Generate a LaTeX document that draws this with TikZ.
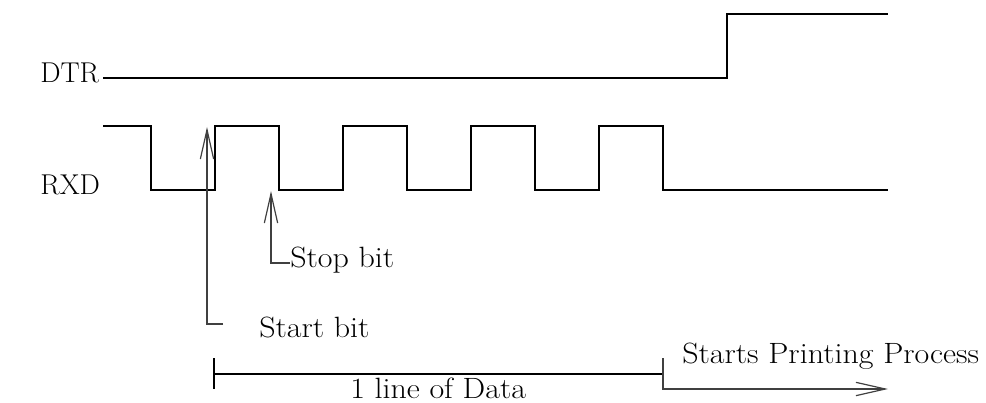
\documentclass[tikz,border=0pt]{standalone}
\usepackage{tikz}
\usetikzlibrary{arrows.meta}

\newcommand{\widetext}[1]{\scalebox{1.09}[1]{#1}}

\begin{document}
\begin{tikzpicture}[x=0.75pt, y=-0.75pt,
      every node/.append style={font=\fontsize{22}{26}\selectfont, inner sep=0pt},
      pointer/.style={line width=0.9pt, draw=black!75, -{Straight Barb[length=22pt,width=10pt,line width=0.9pt]}}]
    \tikzstyle{signal} = [line width=1.7pt, line join=miter]
    \tikzstyle{label} = [anchor=base west]
    \tikzstyle{signame} = [anchor=base west, font=\fontsize{21.5}{26}\selectfont]
    \useasboundingbox (0,0) rectangle (986,403);
    % signal names
    \node [signame] (dtr) at (40,83) {DTR};
    \node [signame] (rxd) at (40,195) {RXD};
    % DTR goes high after the data
    \draw [signal] (103,78) -- (727,78) -- (727,14) -- (888,14);
    % RXD pulses
    \draw [signal] (103,126) -- (151,126) -- (151,190) -- (215,190) -- (215,126)
      -- (279,126) -- (279,190) -- (343,190) -- (343,126) -- (407,126) -- (407,190)
      -- (471,190) -- (471,126) -- (535,126) -- (535,190) -- (599,190) -- (599,126)
      -- (663,126) -- (663,190) -- (888,190);
    % stop bit
    \coordinate (stoptip) at (271,191);
    \coordinate (stopcorner) at (271,263);
    \node [label] (stopbit) at (290,267) {\widetext{Stop bit}};
    \draw [pointer] (stopbit.west |- stopcorner) -- (stopcorner) -- (stoptip);
    % start bit
    \coordinate (starttip) at (207,127);
    \coordinate (startcorner) at (207,324);
    \coordinate (startend) at (223,324);
    \node [label] (startbit) at (259,337) {\widetext{Start bit}};
    \draw [pointer] (startend) -- (startcorner) -- (starttip);
    % one line of data
    \coordinate (datastart) at (214,374);
    \coordinate (dataend) at (663,374);
    \draw [line width=0.9pt] (214,358) -- (214,389);
    \draw [line width=0.9pt] (datastart) -- (dataend);
    \node [label] (data) at (350,398) {\widetext{1 line of Data}};
    % printing starts
    \coordinate (printstart) at (663,358);
    \coordinate (printcorner) at (663,389);
    \coordinate (printend) at (888,389);
    \draw [pointer] (printstart) -- (printcorner) -- (printend);
    \node [label] (print) at (682,363) {\widetext{Starts Printing Process}};
\end{tikzpicture}
\end{document}
